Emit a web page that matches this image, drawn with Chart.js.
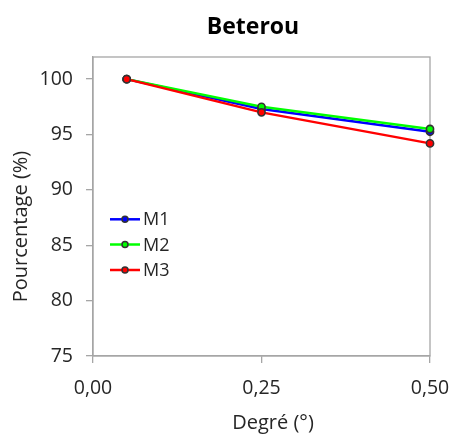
<!DOCTYPE html>
<html><head><meta charset="utf-8">
<script src="https://cdn.jsdelivr.net/npm/chart.js@4/dist/chart.umd.min.js"></script>
<style>html,body{margin:0;padding:0;background:#fff;overflow:hidden}#wrap{width:455px;height:439px}</style>
</head><body><div id="wrap"><canvas id="c" width="455" height="439"></canvas></div>
<script>
const chartTitle = 'Beterou';
const xTitle = 'Degré (°)';
const yTitle = 'Pourcentage (%)';
const xValues = [0.05, 0.25, 0.5];
const seriesNames = ['M1', 'M2', 'M3'];
const m1 = [100, 97.3, 95.25];
const m2 = [100, 97.5, 95.5];
const m3 = [100, 97.0, 94.2];
const xTicks = [0, 0.25, 0.5];
const yTicks = [75, 80, 85, 90, 95, 100];
const seriesColors = ['#0000FF', '#00FF00', '#FF0000'];

const FONT = "'Open Sans', sans-serif";
const GRAY = '#a6a6a6';
const TXT = '#262626';
const MARK = '#333333';

const seriesData = [m1, m2, m3];
const datasets = seriesNames.map((name, i) => ({
  label: name,
  data: xValues.map((x, j) => ({x: x, y: seriesData[i][j]})),
  borderColor: seriesColors[i],
  backgroundColor: seriesColors[i],
  pointBackgroundColor: seriesColors[i],
  pointBorderColor: MARK,
  pointBorderWidth: 1.6,
  pointRadius: 3.6,
  borderWidth: 2.5,
  tension: 0,
  clip: false,
  order: seriesNames.length - i
}));

const framePlugin = {
  id: 'frame',
  beforeDatasetsDraw(chart) {
    const a = chart.chartArea, ctx = chart.ctx;
    ctx.save();
    ctx.strokeStyle = GRAY;
    ctx.lineWidth = 1.3;
    ctx.strokeRect(a.left, a.top, a.right - a.left, a.bottom - a.top);
    ctx.restore();
  }
};

const textPlugin = {
  id: 'texts',
  afterDraw(chart) {
    const ctx = chart.ctx;
    ctx.save();
    ctx.textAlign = 'center';
    ctx.textBaseline = 'alphabetic';
    ctx.fillStyle = '#000';
    ctx.font = "bold 23px " + FONT;
    ctx.fillText(chartTitle, 253, 33.5);
    ctx.fillStyle = TXT;
    ctx.font = "20px " + FONT;
    ctx.fillText(xTitle, 273, 428.5);
    ctx.translate(27, 226.5);
    ctx.rotate(-Math.PI / 2);
    ctx.fillText(yTitle, 0, 0);
    ctx.restore();
  }
};

const legendPlugin = {
  id: 'innerLegend',
  afterDraw(chart) {
    const ctx = chart.ctx;
    const x0 = 110, x1 = 140, tx = 143, ys = [219.3, 244.5, 270];
    ctx.save();
    chart.data.datasets.forEach((ds, i) => {
      const y = ys[i];
      ctx.strokeStyle = ds.borderColor;
      ctx.lineWidth = 2.5;
      ctx.beginPath(); ctx.moveTo(x0, y); ctx.lineTo(x1, y); ctx.stroke();
      ctx.beginPath(); ctx.arc((x0 + x1) / 2, y, 3, 0, Math.PI * 2);
      ctx.fillStyle = ds.borderColor; ctx.fill();
      ctx.strokeStyle = MARK; ctx.lineWidth = 1.5; ctx.stroke();
      ctx.fillStyle = TXT;
      ctx.font = "18px " + FONT;
      ctx.textBaseline = 'middle';
      ctx.textAlign = 'left';
      ctx.fillText(ds.label, tx, y + 1);
    });
    ctx.restore();
  }
};

new Chart(document.getElementById('c'), {
  type: 'line',
  data: { datasets: datasets },
  options: {
    responsive: false,
    animation: false,
    devicePixelRatio: 1,
    layout: { padding: { left: 0, right: 25, top: 57, bottom: 0 } },
    plugins: {
      legend: { display: false },
      tooltip: { enabled: false },
      title: { display: false }
    },
    scales: {
      x: {
        type: 'linear', min: 0, max: 0.5,
        afterBuildTicks(s) { s.ticks = xTicks.map(v => ({ value: v })); },
        afterFit(s) { s.height = 83; s.paddingLeft = 0; s.paddingRight = 0; },
        ticks: {
          color: TXT, font: { family: FONT, size: 19.5 }, padding: 14, maxRotation: 0,
          callback: v => v.toFixed(2).replace('.', ',')
        },
        grid: { drawOnChartArea: false, drawTicks: true, tickLength: 7, color: GRAY, lineWidth: 1.3 },
        border: { display: true, color: GRAY, width: 1.3 }
      },
      y: {
        type: 'linear', min: 75, max: 102,
        afterBuildTicks(s) { s.ticks = yTicks.map(v => ({ value: v })); },
        afterFit(s) { s.width = 93; s.paddingTop = 0; s.paddingBottom = 0; },
        ticks: { color: TXT, font: { family: FONT, size: 19.5 }, padding: 13 },
        grid: { drawOnChartArea: false, drawTicks: true, tickLength: 7, color: GRAY, lineWidth: 1.3 },
        border: { display: true, color: GRAY, width: 1.3 }
      }
    }
  },
  plugins: [framePlugin, textPlugin, legendPlugin]
});
</script></body></html>
